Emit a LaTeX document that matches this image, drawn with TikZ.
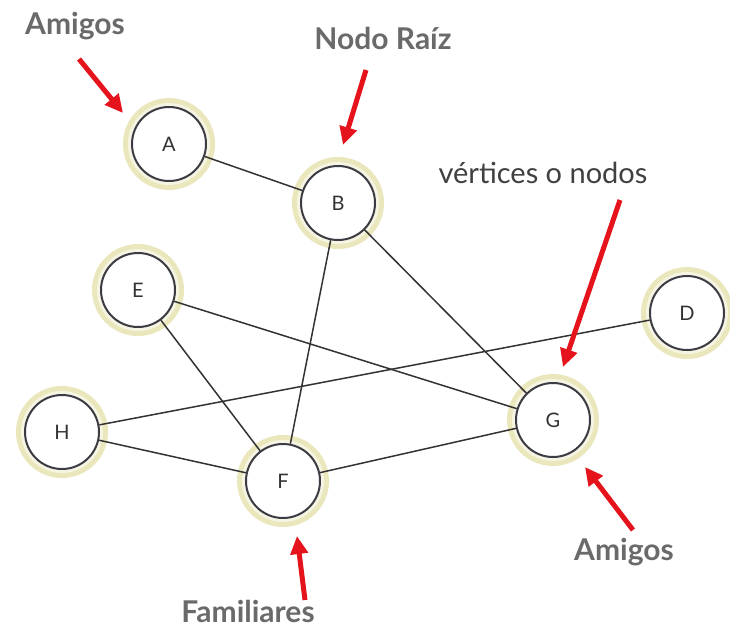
\documentclass[tikz,border=0pt]{standalone}
\usepackage{fontspec}
\setmainfont{Lato}
\usetikzlibrary{arrows.meta}
\definecolor{ringcol}{HTML}{EBE7BC}
\definecolor{ringlight}{HTML}{F6F4E2}
\definecolor{edgecol}{HTML}{333333}
\definecolor{bordcol}{HTML}{3C3C44}
\definecolor{labgray}{HTML}{6A6A6A}
\definecolor{arrred}{HTML}{E5131B}
\begin{document}
\begin{tikzpicture}[x=1pt,y=-1pt,
  vtx/.style={circle, minimum size=74pt, inner sep=0pt, fill=white, draw=bordcol, line width=2pt,
    font=\fontsize{20}{20}\selectfont, text=black!80,
    preaction={draw=ringcol, line width=18pt},
    preaction={draw=ringlight, line width=8pt}},
  edge/.style={draw=edgecol, line width=1.5pt},
  lab/.style={anchor=base, text=labgray, font=\fontsize{30}{30}\selectfont\bfseries, inner sep=0pt},
  lab2/.style={anchor=base, text=black!75, font=\fontsize{29}{29}\selectfont, inner sep=0pt},
  redarrow/.style={draw=arrred, line width=5pt, -{Triangle[length=18pt,width=17pt]}}
]
\useasboundingbox (0,0) rectangle (730,631);
\fill[white] (0,0) rectangle (730,631);
% nodes
\node[vtx] (A) at (169,144) {A};
\node[vtx] (B) at (338,203) {B};
\node[vtx] (E) at (138,290) {E};
\node[vtx] (D) at (687,313) {D};
\node[vtx] (H) at (62,432) {H};
\node[vtx] (F) at (283,481) {F};
\node[vtx] (G) at (553,420) {G};
% edges
\draw[edge] (A) -- (B);
\draw[edge] (B) -- (F);
\draw[edge] (B) -- (G);
\draw[edge] (E) -- (G);
\draw[edge] (E) -- (F);
\draw[edge] (H) -- (D);
\draw[edge] (H) -- (F);
\draw[edge] (F) -- (G);
% labels
\node[lab] (l1) at (75,35) {Amigos};
\node[lab] (l2) at (383,50) {Nodo Raíz};
\node[lab2] (l3) at (543,183) {vértices o nodos};
\node[lab] (l4) at (624,560) {Amigos};
\node[lab] (l5) at (248,622) {Familiares};
% arrows
\coordinate (t1) at (79,59);
\coordinate (h1) at (123,113);
\coordinate (t2) at (366,70);
\coordinate (h2) at (343,145);
\coordinate (t3) at (620,200);
\coordinate (h3) at (563,367);
\coordinate (t4) at (633,530);
\coordinate (h4) at (585,467);
\coordinate (t5) at (305,600);
\coordinate (h5) at (297,536);
\draw[redarrow] (t1) -- (h1);
\draw[redarrow] (t2) -- (h2);
\draw[redarrow] (t3) -- (h3);
\draw[redarrow] (t4) -- (h4);
\draw[redarrow] (t5) -- (h5);
\end{tikzpicture}
\end{document}
